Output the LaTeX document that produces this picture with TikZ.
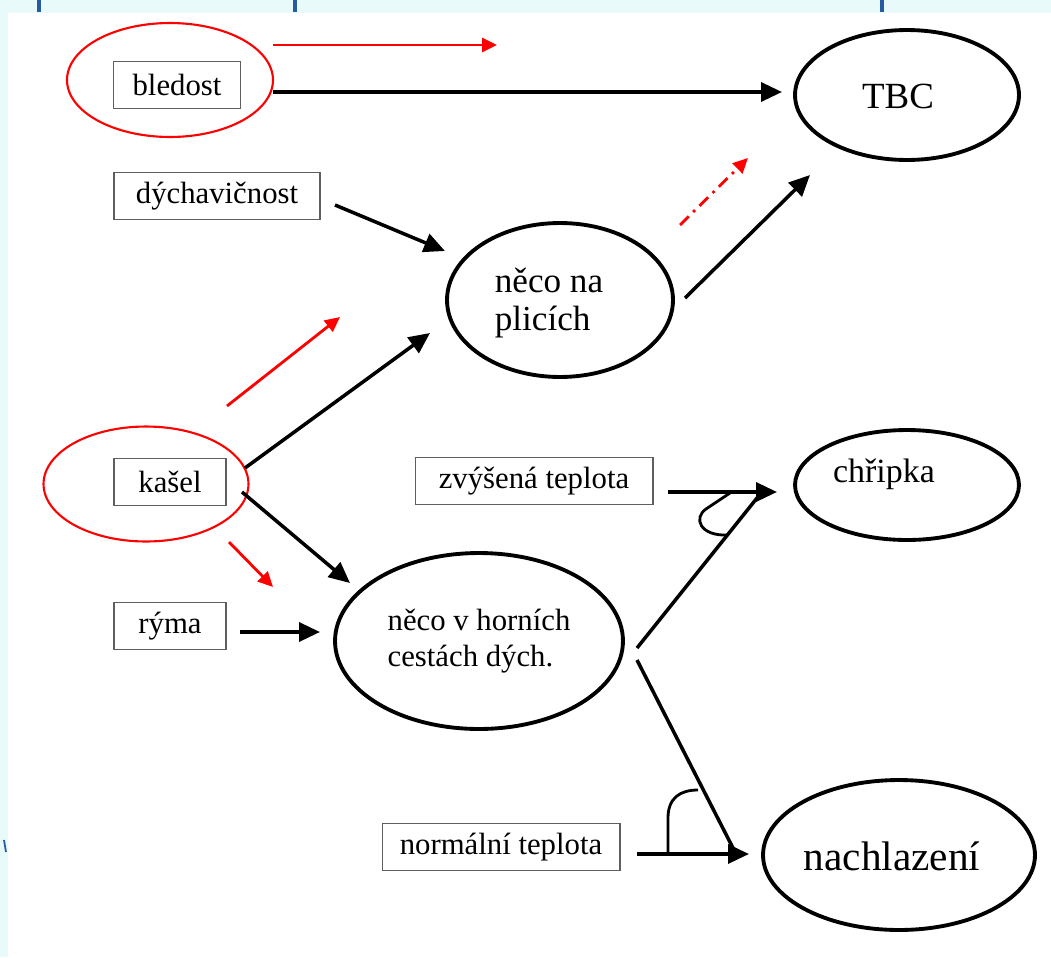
\documentclass[tikz,border=0pt]{standalone}
\usepackage{fontspec}
\setmainfont{Liberation Serif}
\usetikzlibrary{arrows.meta,shapes.geometric}
\definecolor{bgCyan}{RGB}{232,250,250}
\definecolor{markBlue}{RGB}{40,90,160}
\definecolor{boxGray}{RGB}{95,95,95}
\begin{document}
\begin{tikzpicture}[x=0.02cm,y=-0.02cm,
    symptom/.style={draw=boxGray,line width=0.6pt,minimum height=0.94cm,inner sep=0pt,font=\fontsize{17.5}{21}\selectfont},
    diag/.style={ellipse,draw=black,line width=2.2pt,inner sep=0pt,align=left},
    redRing/.style={ellipse,draw=red,line width=1.2pt,inner sep=0pt},
    arr/.style={draw=black,line width=2pt,-{Triangle[length=0.42cm,width=0.38cm]}},
    redArr/.style={draw=red,line width=1.6pt,-{Triangle[length=0.3cm,width=0.28cm]}},
    plain/.style={draw=black,line width=2pt}]

       \pgfmathsetmacro{\sizeW}{1051}
       \pgfmathsetmacro{\sizeH}{957}

       %% pozadi a okraj snimku
       \useasboundingbox (0,0) rectangle (\sizeW,\sizeH);
       \fill[bgCyan] (0,0) rectangle (\sizeW,\sizeH);
       \fill[white] (8,13) rectangle (\sizeW,\sizeH);
       \fill[markBlue] (37,0) rectangle (41,12);
       \fill[markBlue] (293,0) rectangle (297,12);
       \fill[markBlue] (880,0) rectangle (884,12);
       \draw[markBlue,line width=1pt] (4,840) -- (6,852);

       %% cervene krouzky
       \node[redRing,minimum width=4.12cm,minimum height=2.28cm] (RingBledost) at (170,80) {};
       \node[redRing,minimum width=4.1cm,minimum height=2.3cm] (RingKasel) at (146,484) {};

       %% priznaky
       \node[symptom,minimum width=2.54cm] (Bledost) at (177,85) {bledost};
       \node[symptom,minimum width=4.12cm] (Dych) at (217,196) {dýchavičnost};
       \node[symptom,minimum width=2.24cm] (Kasel) at (170,482) {kašel};
       \node[symptom,minimum width=2.24cm] (Ryma) at (170,626) {rýma};
       \node[symptom,minimum width=4.76cm] (Zvysena) at (534,481) {zvýšená teplota};
       \node[symptom,minimum width=4.76cm] (Normalni) at (501,847) {normální teplota};

       %% diagnozy
       \node[diag,minimum width=4.48cm,minimum height=2.6cm] (TBC) at (907,95) {};
       \node[font=\fontsize{21}{24}\selectfont] (TBCText) at (898,96) {TBC};
       \node[diag,minimum width=4.52cm,minimum height=3.08cm] (Plice) at (560,300) {};
       \node[align=left,font=\fontsize{20}{21.5}\selectfont] (PliceText) at (549,303) {něco na\\plicích};
       \node[diag,minimum width=4.48cm,minimum height=2.2cm] (Chripka) at (907,485) {};
       \node[font=\fontsize{19.3}{22}\selectfont] (ChripkaText) at (884,474) {chřipka};
       \node[diag,minimum width=5.76cm,minimum height=3.52cm,font=\fontsize{17.5}{20.5}\selectfont] (Horni) at (479,641) {něco v horních\\cestách dých.};
       \node[diag,minimum width=5.44cm,minimum height=3cm] (Nachlazeni) at (899,855) {};
       \node[font=\fontsize{23.5}{27}\selectfont] (NachText) at (892,856) {nachlazení};

       %% konce spojnic
       \coordinate (BledostOut) at (273,92);
       \coordinate (TbcIn) at (782,92);
       \coordinate (DychOut) at (335,205);
       \coordinate (PliceIn) at (445,251);
       \coordinate (PliceOut) at (685,298);
       \coordinate (TbcLow) at (810,175);
       \coordinate (KaselUp) at (245,468);
       \coordinate (PliceLow) at (430,333);
       \coordinate (KaselDown) at (242,492);
       \coordinate (HorniIn) at (350,583);
       \coordinate (RymaOut) at (240,632);
       \coordinate (HorniLeft) at (320,632);
       \coordinate (ZvysOut) at (668,492);
       \coordinate (ChripIn) at (777,492);
       \coordinate (HorniUp) at (637,648);
       \coordinate (AndUp) at (761,493);
       \coordinate (NormOut) at (637,854);
       \coordinate (NachIn) at (749,854);
       \coordinate (HorniDown) at (637,660);
       \coordinate (AndDown) at (734,850);

       \draw[arr] (BledostOut) -- (TbcIn);
       \draw[arr] (DychOut) -- (PliceIn);
       \draw[arr] (PliceOut) -- (TbcLow);
       \draw[arr] (KaselUp) -- (PliceLow);
       \draw[arr] (KaselDown) -- (HorniIn);
       \draw[arr] (RymaOut) -- (HorniLeft);
       \draw[arr] (ZvysOut) -- (ChripIn);
       \draw[plain] (HorniUp) -- (AndUp);
       \draw[arr] (NormOut) -- (NachIn);
       \draw[plain] (HorniDown) -- (AndDown);

       %% oblouky AND
       \draw[plain,line width=1.6pt] (730,493) -- (706,509) .. controls (693,518) and (700,536) .. (727,535);
       \draw[plain,line width=1.6pt] (668,854) -- (668,818) .. controls (668,798) and (680,790) .. (698,790);

       %% cervene sipky
       \coordinate (RedTopA) at (273,45);
       \coordinate (RedTopB) at (497,45);
       \coordinate (RedDashA) at (680,225);
       \coordinate (RedDashB) at (748,158);
       \coordinate (RedUpA) at (227,406);
       \coordinate (RedUpB) at (340,317);
       \coordinate (RedDownA) at (229,542);
       \coordinate (RedDownB) at (273,587);
       \draw[redArr] (RedTopA) -- (RedTopB);
       \draw[redArr,dash pattern=on 7pt off 3.5pt on 1.5pt off 3.5pt] (RedDashA) -- (RedDashB);
       \draw[redArr] (RedUpA) -- (RedUpB);
       \draw[redArr] (RedDownA) -- (RedDownB);
    \end{tikzpicture}
\end{document}
